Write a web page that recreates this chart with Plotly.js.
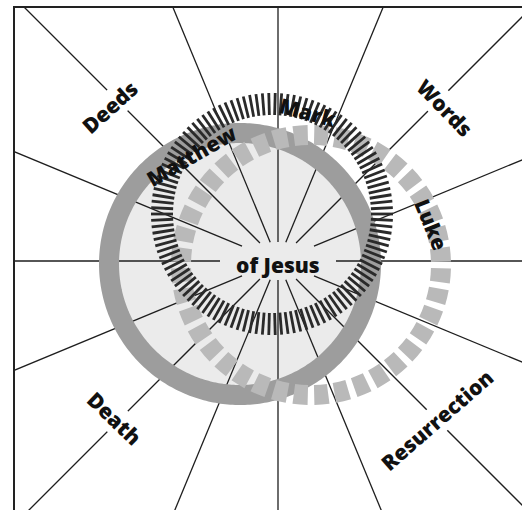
<!DOCTYPE html>
<html><head><meta charset="utf-8">
<script src="https://cdn.plot.ly/plotly-3.0.1.min.js"></script>
<style>html,body{margin:0;padding:0;background:#fff}#chart{width:522px;height:510px}</style>
</head><body><div id="chart"></div>
<script>
// ---------- data ----------
const themes = ['Deeds', 'Words', 'Death', 'Resurrection'];
const gospels = ['Matthew', 'Mark', 'Luke'];
const centreLabel = ['of Jesus'];
const spokeAngles = [0, 22.5, 45, 67.5, 90, 112.5, 135, 157.5, 180, 202.5, 225, 247.5, 270, 292.5, 315, 337.5];
const markTickCount = [118];
const lukeBlockCount = [40];

// ---------- geometry & style (kept apart from the data) ----------
const G = {
  hub: {x: 278, y: 261, rx: 58, ry: 19, reach: 460},
  matthew: {x: 240, y: 264, r: 131, width: 20, color: '#9d9d9d', fill: '#ebebeb'},
  mark: {x: 272, y: 214, rIn: 99, rOut: 121, width: 2.8, color: '#2a2a2a'},
  luke: {x: 311, y: 265, rIn: 120, rOut: 140, halfDeg: 3.1, phase: 4.5, color: '#b9b9b9'},
  themePos: [[110, 107, -42], [445, 108, 46], [114, 418, 44], [437, 420, -41]],
  gospelPos: [[191, 156, -30], [307, 112, 15], [431, 224, 68]],
  centrePos: [278, 265],
  font: 'Open Sans, Noto Sans, sans-serif'
};
const rad = d => d * Math.PI / 180;
const px = (c, r, a) => c.x + r * Math.cos(rad(a));
const py = (c, r, a) => c.y + r * Math.sin(rad(a));

const traces = [];

// light inner disk of the Matthew circle
(function () {
  const c = G.matthew, xs = [], ys = [];
  for (let a = 0; a <= 360; a += 1) { xs.push(px(c, c.r, a)); ys.push(py(c, c.r, a)); }
  traces.push({type: 'scatter', mode: 'lines', x: xs, y: ys, fill: 'toself', fillcolor: c.fill,
    line: {width: 0, color: c.fill, simplify: false}, hoverinfo: 'skip', showlegend: false});
})();

// spokes
(function () {
  const h = G.hub, xs = [], ys = [];
  spokeAngles.forEach(a => {
    const co = Math.cos(rad(a)), si = Math.sin(rad(a));
    const r0 = 1 / Math.sqrt(co * co / (h.rx * h.rx) + si * si / (h.ry * h.ry));
    xs.push(px(h, r0, a), px(h, h.reach, a), null);
    ys.push(py(h, r0, a), py(h, h.reach, a), null);
  });
  traces.push({type: 'scatter', mode: 'lines', x: xs, y: ys, line: {width: 1.3, color: '#1e1e1e', simplify: false},
    hoverinfo: 'skip', showlegend: false});
})();

// Matthew ring
(function () {
  const c = G.matthew, xs = [], ys = [];
  for (let a = 0; a <= 361; a += 1) { xs.push(px(c, c.r, a)); ys.push(py(c, c.r, a)); }
  traces.push({type: 'scatter', mode: 'lines', x: xs, y: ys, line: {width: c.width, color: c.color, simplify: false},
    hoverinfo: 'skip', showlegend: false});
})();

// Luke blocks
(function () {
  const c = G.luke, n = lukeBlockCount[0], xs = [], ys = [];
  for (let i = 0; i < n; i++) {
    const a = c.phase + i * 360 / n, a0 = a - c.halfDeg, a1 = a + c.halfDeg;
    const pts = [[c.rIn, a0], [c.rOut, a0], [c.rOut, a], [c.rOut, a1], [c.rIn, a1], [c.rIn, a]];
    pts.forEach(p => { xs.push(px(c, p[0], p[1])); ys.push(py(c, p[0], p[1])); });
    xs.push(null); ys.push(null);
  }
  traces.push({type: 'scatter', mode: 'lines', x: xs, y: ys, fill: 'toself', fillcolor: c.color,
    line: {width: 0, color: c.color, simplify: false}, hoverinfo: 'skip', showlegend: false});
})();

// Mark ticks
(function () {
  const c = G.mark, n = markTickCount[0], xs = [], ys = [];
  for (let i = 0; i < n; i++) {
    const a = i * 360 / n;
    xs.push(px(c, c.rIn, a), px(c, c.rOut, a), null);
    ys.push(py(c, c.rIn, a), py(c, c.rOut, a), null);
  }
  traces.push({type: 'scatter', mode: 'lines', x: xs, y: ys, line: {width: c.width, color: c.color, simplify: false},
    hoverinfo: 'skip', showlegend: false});
})();

const annotations = [];
const fnt = s => ({family: G.font, size: s, weight: 800, color: '#111'});
themes.forEach((t, i) => {
  const p = G.themePos[i];
  annotations.push({text: t, x: p[0], y: p[1], xref: 'x', yref: 'y', showarrow: false,
    textangle: p[2], font: fnt(21), bgcolor: '#ffffff', borderpad: 0});
});
gospels.forEach((t, i) => {
  const p = G.gospelPos[i];
  annotations.push({text: t, x: p[0], y: p[1], xref: 'x', yref: 'y', showarrow: false,
    textangle: p[2], font: fnt(21)});
});
annotations.push({text: centreLabel[0], x: G.centrePos[0], y: G.centrePos[1], xref: 'x', yref: 'y',
  showarrow: false, font: fnt(21)});

const axisBase = {showgrid: false, zeroline: false, showticklabels: false, ticks: '', showline: true,
  linecolor: '#222', linewidth: 2, fixedrange: true};

Plotly.newPlot('chart', traces, {
  width: 522, height: 510,
  margin: {l: 15, r: 0, t: 8, b: 0},
  paper_bgcolor: '#fff', plot_bgcolor: '#fff',
  xaxis: Object.assign({}, axisBase, {range: [15, 522], side: 'top'}),
  yaxis: Object.assign({}, axisBase, {range: [510, 8], side: 'left'}),
  annotations: annotations,
  showlegend: false
}, {staticPlot: true, displayModeBar: false});
</script>
</body></html>
